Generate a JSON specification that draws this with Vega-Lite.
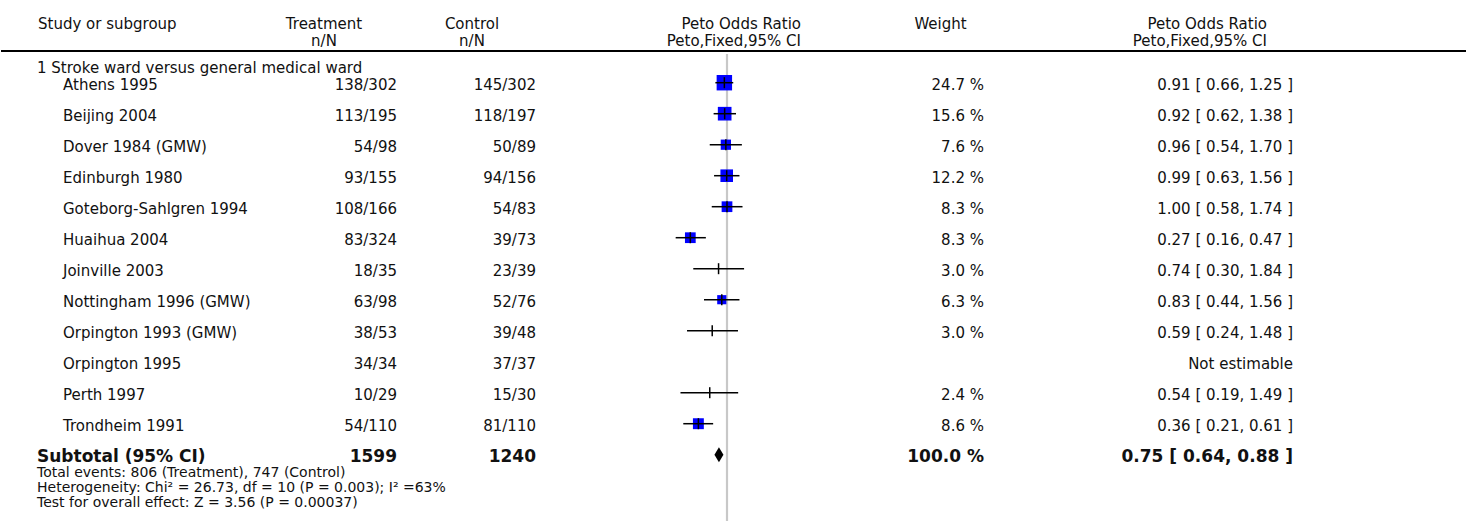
{
  "$schema": "https://vega.github.io/schema/vega-lite/v6.json",
  "padding": 0,
  "background": "white",
  "spacing": 0,
  "config": {
    "view": {"stroke": null},
    "text": {"font": "DejaVu Sans", "fontSize": 15, "color": "#111111"},
    "concat": {"spacing": 0}
  },
  "datasets": {
    "line": [{"name": "header rule"}],
    "headers": [
      {"col": "study", "text": "Study or subgroup"},
      {"col": "treat", "text": "Treatment\nn/N"},
      {"col": "ctrl", "text": "Control\nn/N"},
      {"col": "or1", "text": "Peto Odds Ratio\nPeto,Fixed,95% CI"},
      {"col": "weight", "text": "Weight"},
      {"col": "or2", "text": "Peto Odds Ratio\nPeto,Fixed,95% CI"}
    ],
    "notes": [
      {"row": 0, "kind": "title", "text": "1 Stroke ward versus general medical ward"},
      {"row": 14, "kind": "foot", "text": "Total events: 806 (Treatment), 747 (Control)\nHeterogeneity: Chi² = 26.73, df = 10 (P = 0.003); I² =63%\nTest for overall effect: Z = 3.56 (P = 0.00037)"}
    ],
    "rows": [
      {"row": 1, "kind": "study", "study": "Athens 1995", "treat": "138/302", "ctrl": "145/302", "weight": 24.7, "weightText": "24.7 %", "or": 0.91, "lo": 0.66, "hi": 1.25, "ciText": "0.91 [ 0.66, 1.25 ]"},
      {"row": 2, "kind": "study", "study": "Beijing 2004", "treat": "113/195", "ctrl": "118/197", "weight": 15.6, "weightText": "15.6 %", "or": 0.92, "lo": 0.62, "hi": 1.38, "ciText": "0.92 [ 0.62, 1.38 ]"},
      {"row": 3, "kind": "study", "study": "Dover 1984 (GMW)", "treat": "54/98", "ctrl": "50/89", "weight": 7.6, "weightText": "7.6 %", "or": 0.96, "lo": 0.54, "hi": 1.70, "ciText": "0.96 [ 0.54, 1.70 ]"},
      {"row": 4, "kind": "study", "study": "Edinburgh 1980", "treat": "93/155", "ctrl": "94/156", "weight": 12.2, "weightText": "12.2 %", "or": 0.99, "lo": 0.63, "hi": 1.56, "ciText": "0.99 [ 0.63, 1.56 ]"},
      {"row": 5, "kind": "study", "study": "Goteborg-Sahlgren 1994", "treat": "108/166", "ctrl": "54/83", "weight": 8.3, "weightText": "8.3 %", "or": 1.00, "lo": 0.58, "hi": 1.74, "ciText": "1.00 [ 0.58, 1.74 ]"},
      {"row": 6, "kind": "study", "study": "Huaihua 2004", "treat": "83/324", "ctrl": "39/73", "weight": 8.3, "weightText": "8.3 %", "or": 0.27, "lo": 0.16, "hi": 0.47, "ciText": "0.27 [ 0.16, 0.47 ]"},
      {"row": 7, "kind": "study", "study": "Joinville 2003", "treat": "18/35", "ctrl": "23/39", "weight": 3.0, "weightText": "3.0 %", "or": 0.74, "lo": 0.30, "hi": 1.84, "ciText": "0.74 [ 0.30, 1.84 ]"},
      {"row": 8, "kind": "study", "study": "Nottingham 1996 (GMW)", "treat": "63/98", "ctrl": "52/76", "weight": 6.3, "weightText": "6.3 %", "or": 0.83, "lo": 0.44, "hi": 1.56, "ciText": "0.83 [ 0.44, 1.56 ]"},
      {"row": 9, "kind": "study", "study": "Orpington 1993 (GMW)", "treat": "38/53", "ctrl": "39/48", "weight": 3.0, "weightText": "3.0 %", "or": 0.59, "lo": 0.24, "hi": 1.48, "ciText": "0.59 [ 0.24, 1.48 ]"},
      {"row": 10, "kind": "study", "study": "Orpington 1995", "treat": "34/34", "ctrl": "37/37", "weight": null, "weightText": "", "or": null, "lo": null, "hi": null, "ciText": "Not estimable"},
      {"row": 11, "kind": "study", "study": "Perth 1997", "treat": "10/29", "ctrl": "15/30", "weight": 2.4, "weightText": "2.4 %", "or": 0.54, "lo": 0.19, "hi": 1.49, "ciText": "0.54 [ 0.19, 1.49 ]"},
      {"row": 12, "kind": "study", "study": "Trondheim 1991", "treat": "54/110", "ctrl": "81/110", "weight": 8.6, "weightText": "8.6 %", "or": 0.36, "lo": 0.21, "hi": 0.61, "ciText": "0.36 [ 0.21, 0.61 ]"},
      {"row": 13, "kind": "total", "study": "Subtotal (95% CI)", "treat": "1599", "ctrl": "1240", "weight": 100, "weightText": "100.0 %", "or": 0.75, "lo": 0.64, "hi": 0.88, "ciText": "0.75 [ 0.64, 0.88 ]"}
    ]
  },
  "vconcat": [
    {
      "spacing": 0,
      "bounds": "flush",
      "hconcat": [
        {"width": 37, "height": 51, "layer": [
          {"data": {"name": "line"}, "mark": {"type": "rule", "color": "#000000", "strokeWidth": 1.8}, "encoding": {"y": {"value": "height"}}},
          {"data": {"name": "headers"}, "transform": [{"filter": "datum.col == 'study'"}], "mark": {"type": "text", "align": "left", "baseline": "alphabetic", "dy": 3}, "encoding": {"x": {"value": "width"}, "text": {"field": "text"}}}
        ]},
        {"width": 226, "height": 51, "layer": [
          {"data": {"name": "line"}, "mark": {"type": "rule", "color": "#000000", "strokeWidth": 1.8}, "encoding": {"y": {"value": "height"}}}
        ]},
        {"width": 120, "height": 51, "layer": [
          {"data": {"name": "line"}, "mark": {"type": "rule", "color": "#000000", "strokeWidth": 1.8}, "encoding": {"y": {"value": "height"}}},
          {"data": {"name": "headers"}, "transform": [{"filter": "datum.col == 'treat'"}], "mark": {"type": "text", "align": "center", "baseline": "alphabetic", "dy": 3, "lineBreak": "\n", "lineHeight": 17}, "encoding": {"text": {"field": "text"}}}
        ]},
        {"width": 176, "height": 51, "layer": [
          {"data": {"name": "line"}, "mark": {"type": "rule", "color": "#000000", "strokeWidth": 1.8}, "encoding": {"y": {"value": "height"}}},
          {"data": {"name": "headers"}, "transform": [{"filter": "datum.col == 'ctrl'"}], "mark": {"type": "text", "align": "center", "baseline": "alphabetic", "dy": 3, "lineBreak": "\n", "lineHeight": 17}, "encoding": {"text": {"field": "text"}}}
        ]},
        {"width": 241, "height": 51, "layer": [
          {"data": {"name": "line"}, "mark": {"type": "rule", "color": "#000000", "strokeWidth": 1.8}, "encoding": {"y": {"value": "height"}}},
          {"data": {"name": "headers"}, "transform": [{"filter": "datum.col == 'or1'"}], "mark": {"type": "text", "align": "right", "baseline": "alphabetic", "dy": 3, "lineBreak": "\n", "lineHeight": 17}, "encoding": {"x": {"value": "width"}, "text": {"field": "text"}}}
        ]},
        {"width": 279, "height": 51, "layer": [
          {"data": {"name": "line"}, "mark": {"type": "rule", "color": "#000000", "strokeWidth": 1.8}, "encoding": {"y": {"value": "height"}}},
          {"data": {"name": "headers"}, "transform": [{"filter": "datum.col == 'weight'"}], "mark": {"type": "text", "align": "center", "baseline": "alphabetic", "dy": 3}, "encoding": {"text": {"field": "text"}}}
        ]},
        {"width": 187, "height": 51, "layer": [
          {"data": {"name": "line"}, "mark": {"type": "rule", "color": "#000000", "strokeWidth": 1.8}, "encoding": {"y": {"value": "height"}}},
          {"data": {"name": "headers"}, "transform": [{"filter": "datum.col == 'or2'"}], "mark": {"type": "text", "align": "right", "baseline": "alphabetic", "dy": 3, "lineBreak": "\n", "lineHeight": 17}, "encoding": {"x": {"value": "width"}, "text": {"field": "text"}}}
        ]},
        {"width": 199, "height": 51, "layer": [
          {"data": {"name": "line"}, "mark": {"type": "rule", "color": "#000000", "strokeWidth": 1.8}, "encoding": {"y": {"value": "height"}}}
        ]}
      ]
    },
    {
      "spacing": 0,
      "bounds": "flush",
      "hconcat": [
        {"width": 36, "height": 469, "layer": [
          {"data": {"name": "notes"}, "transform": [{"filter": "datum.kind == 'title'"}], "mark": {"type": "text", "align": "left", "baseline": "alphabetic", "dy": 21.5}, "encoding": {"x": {"value": "width"}, "y": {"field": "row", "type": "quantitative", "scale": {"domain": [0.0742, 15.203], "reverse": true, "nice": false, "zero": false}, "axis": null}, "text": {"field": "text"}}},
          {"data": {"name": "rows"}, "transform": [{"filter": "datum.kind == 'total'"}], "mark": {"type": "text", "align": "left", "baseline": "alphabetic", "dy": 7, "fontWeight": "bold", "fontSize": 17}, "encoding": {"x": {"value": "width"}, "y": {"field": "row", "type": "quantitative", "scale": {"domain": [0.0742, 15.203], "reverse": true, "nice": false, "zero": false}, "axis": null}, "text": {"field": "study"}}},
          {"data": {"name": "notes"}, "transform": [{"filter": "datum.kind == 'foot'"}], "mark": {"type": "text", "align": "left", "baseline": "alphabetic", "dy": -8.5, "fontSize": 14, "lineBreak": "\n", "lineHeight": 15}, "encoding": {"x": {"value": "width"}, "y": {"field": "row", "type": "quantitative", "scale": {"domain": [0.0742, 15.203], "reverse": true, "nice": false, "zero": false}, "axis": null}, "text": {"field": "text"}}}
        ]},
        {"width": 26, "height": 469, "layer": [
          {"data": {"name": "rows"}, "transform": [{"filter": "datum.kind == 'study'"}], "mark": {"type": "text", "align": "left", "baseline": "alphabetic", "dy": 7.5}, "encoding": {"x": {"value": "width"}, "y": {"field": "row", "type": "quantitative", "scale": {"domain": [0.0742, 15.203], "reverse": true, "nice": false, "zero": false}, "axis": null}, "text": {"field": "study"}}}
        ]},
        {"width": 334, "height": 469, "layer": [
          {"data": {"name": "rows"}, "transform": [{"filter": "datum.kind == 'study'"}], "mark": {"type": "text", "align": "right", "baseline": "alphabetic", "dy": 7.5}, "encoding": {"x": {"value": "width"}, "y": {"field": "row", "type": "quantitative", "scale": {"domain": [0.0742, 15.203], "reverse": true, "nice": false, "zero": false}, "axis": null}, "text": {"field": "treat"}}},
          {"data": {"name": "rows"}, "transform": [{"filter": "datum.kind == 'total'"}], "mark": {"type": "text", "align": "right", "baseline": "alphabetic", "dy": 7, "fontWeight": "bold", "fontSize": 17}, "encoding": {"x": {"value": "width"}, "y": {"field": "row", "type": "quantitative", "scale": {"domain": [0.0742, 15.203], "reverse": true, "nice": false, "zero": false}, "axis": null}, "text": {"field": "treat"}}}
        ]},
        {"width": 139, "height": 469, "layer": [
          {"data": {"name": "rows"}, "transform": [{"filter": "datum.kind == 'study'"}], "mark": {"type": "text", "align": "right", "baseline": "alphabetic", "dy": 7.5}, "encoding": {"x": {"value": "width"}, "y": {"field": "row", "type": "quantitative", "scale": {"domain": [0.0742, 15.203], "reverse": true, "nice": false, "zero": false}, "axis": null}, "text": {"field": "ctrl"}}},
          {"data": {"name": "rows"}, "transform": [{"filter": "datum.kind == 'total'"}], "mark": {"type": "text", "align": "right", "baseline": "alphabetic", "dy": 7, "fontWeight": "bold", "fontSize": 17}, "encoding": {"x": {"value": "width"}, "y": {"field": "row", "type": "quantitative", "scale": {"domain": [0.0742, 15.203], "reverse": true, "nice": false, "zero": false}, "axis": null}, "text": {"field": "ctrl"}}}
        ]},
        {"width": 448, "height": 469,
          "layer": [
          {"data": {"values": [{"or": 1}]}, "mark": {"type": "rule", "color": "#c8c8c8", "strokeWidth": 2.2}, "encoding": {"x": {"field": "or", "type": "quantitative", "scale": {"type": "log", "domain": [0.01, 100], "range": [62, 320], "nice": false}, "axis": null}}},
          {"data": {"name": "rows"}, "transform": [{"filter": "datum.kind == 'study' && isValid(datum.weight)"}], "mark": {"type": "point", "shape": "square", "filled": true, "color": "#0000ff", "opacity": 1, "strokeWidth": 0}, "encoding": {"x": {"field": "or", "type": "quantitative", "scale": {"type": "log", "domain": [0.01, 100], "range": [62, 320], "nice": false}, "axis": null}, "y": {"field": "row", "type": "quantitative", "scale": {"domain": [0.0742, 15.203], "reverse": true, "nice": false, "zero": false}, "axis": null}, "size": {"field": "weight", "type": "quantitative", "scale": {"type": "log", "domain": [3, 25], "range": [0, 240], "clamp": true}, "legend": null}}},
          {"data": {"name": "rows"}, "transform": [{"filter": "datum.kind == 'study' && isValid(datum.or)"}], "mark": {"type": "rule", "color": "#000000", "strokeWidth": 1.5}, "encoding": {"x": {"field": "lo", "type": "quantitative", "scale": {"type": "log", "domain": [0.01, 100], "range": [62, 320], "nice": false}, "axis": null}, "x2": {"field": "hi"}, "y": {"field": "row", "type": "quantitative", "scale": {"domain": [0.0742, 15.203], "reverse": true, "nice": false, "zero": false}, "axis": null}}},
          {"data": {"name": "rows"}, "transform": [{"filter": "datum.kind == 'study' && isValid(datum.or)"}], "mark": {"type": "tick", "orient": "vertical", "size": 11, "thickness": 1.5, "color": "#000000", "opacity": 1}, "encoding": {"x": {"field": "or", "type": "quantitative", "scale": {"type": "log", "domain": [0.01, 100], "range": [62, 320], "nice": false}, "axis": null}, "y": {"field": "row", "type": "quantitative", "scale": {"domain": [0.0742, 15.203], "reverse": true, "nice": false, "zero": false}, "axis": null}}},
          {"data": {"name": "rows"}, "transform": [{"filter": "datum.kind == 'total'"}], "mark": {"type": "point", "shape": "M0,-1L0.6,0L0,1L-0.6,0Z", "filled": true, "color": "#000000", "opacity": 1, "size": 225, "strokeWidth": 0}, "encoding": {"x": {"field": "or", "type": "quantitative", "scale": {"type": "log", "domain": [0.01, 100], "range": [62, 320], "nice": false}, "axis": null}, "y": {"field": "row", "type": "quantitative", "scale": {"domain": [0.0742, 15.203], "reverse": true, "nice": false, "zero": false}, "axis": null}}},
          {"data": {"name": "rows"}, "transform": [{"filter": "datum.kind == 'study' && datum.weightText != ''"}], "mark": {"type": "text", "align": "right", "baseline": "alphabetic", "dy": 7.5}, "encoding": {"x": {"value": "width"}, "y": {"field": "row", "type": "quantitative", "scale": {"domain": [0.0742, 15.203], "reverse": true, "nice": false, "zero": false}, "axis": null}, "text": {"field": "weightText"}}},
          {"data": {"name": "rows"}, "transform": [{"filter": "datum.kind == 'total'"}], "mark": {"type": "text", "align": "right", "baseline": "alphabetic", "dy": 7, "fontWeight": "bold", "fontSize": 17}, "encoding": {"x": {"value": "width"}, "y": {"field": "row", "type": "quantitative", "scale": {"domain": [0.0742, 15.203], "reverse": true, "nice": false, "zero": false}, "axis": null}, "text": {"field": "weightText"}}}
        ]},
        {"width": 309, "height": 469, "layer": [
          {"data": {"name": "rows"}, "transform": [{"filter": "datum.kind == 'study'"}], "mark": {"type": "text", "align": "right", "baseline": "alphabetic", "dy": 7.5}, "encoding": {"x": {"value": "width"}, "y": {"field": "row", "type": "quantitative", "scale": {"domain": [0.0742, 15.203], "reverse": true, "nice": false, "zero": false}, "axis": null}, "text": {"field": "ciText"}}},
          {"data": {"name": "rows"}, "transform": [{"filter": "datum.kind == 'total'"}], "mark": {"type": "text", "align": "right", "baseline": "alphabetic", "dy": 7, "fontWeight": "bold", "fontSize": 17}, "encoding": {"x": {"value": "width"}, "y": {"field": "row", "type": "quantitative", "scale": {"domain": [0.0742, 15.203], "reverse": true, "nice": false, "zero": false}, "axis": null}, "text": {"field": "ciText"}}}
        ]}
      ]
    }
  ]
}
